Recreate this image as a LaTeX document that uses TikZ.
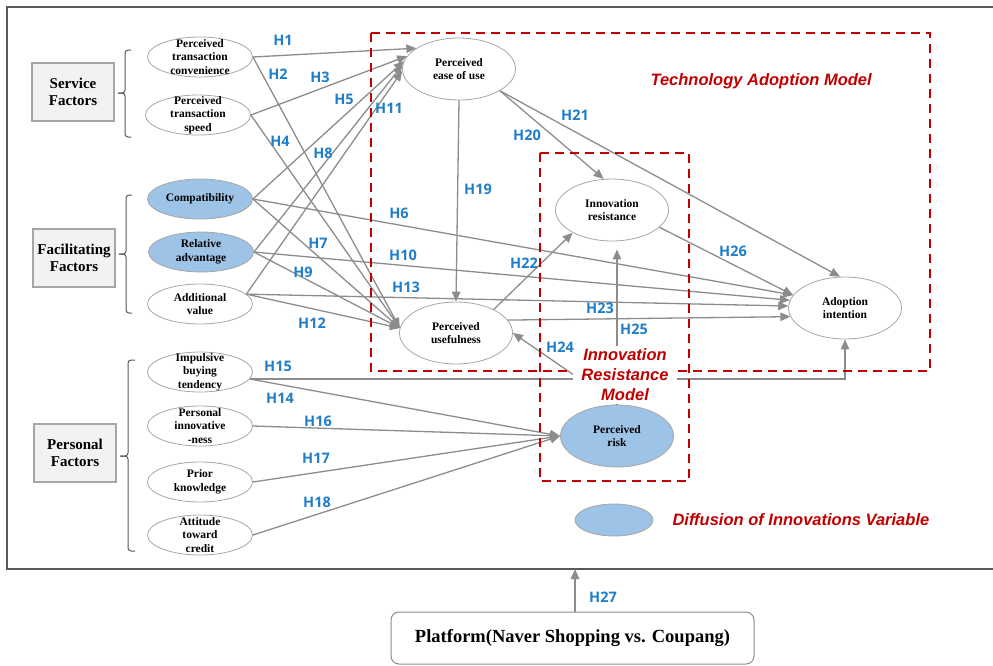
\documentclass[tikz,border=0pt]{standalone}
\usepackage{fontspec}
\setmainfont{Liberation Serif}
\newfontfamily\lblfont{Open Sans}
\newfontfamily\redfont{Liberation Sans}
\usetikzlibrary{shapes.geometric,arrows.meta}
\definecolor{hblue}{HTML}{1F7DC9}
\definecolor{hred}{HTML}{C00000}
\definecolor{lgray}{HTML}{8C8C8C}
\definecolor{efill}{HTML}{9DC3E6}
\definecolor{eline}{HTML}{A6A6A6}
\definecolor{boxfill}{HTML}{F2F2F2}
\definecolor{frame}{HTML}{595959}
\tikzset{
  ell/.style={ellipse, draw=eline, line width=0.8pt, minimum width=105pt, minimum height=40pt, inner sep=0pt},
  bigell/.style={ellipse, draw=eline, line width=0.8pt, minimum width=113pt, minimum height=62pt, inner sep=0pt},
  filled/.style={fill=efill},
  etxt/.style={font=\bfseries\fontsize{11.5}{13.5}\selectfont, align=center, inner sep=0pt},
  hl/.style={font=\lblfont\bfseries\fontsize{14.5}{16}\selectfont, text=hblue, inner sep=0pt},
  arr/.style={draw=lgray, line width=1.3pt, -{Triangle[length=10pt,width=8.5pt]}},
  factor/.style={draw=eline, fill=boxfill, line width=1.2pt, minimum width=82pt, minimum height=58pt, font=\bfseries\fontsize{15}{17}\selectfont, align=center},
  redlbl/.style={font=\redfont\bfseries\itshape\fontsize{16.5}{20}\selectfont, text=hred, align=center},
  dashbox/.style={draw=hred, line width=2.4pt, dash pattern=on 9pt off 6pt},
  bracket/.style={draw=frame, line width=1pt, rounded corners=3pt},
}
\begin{document}
\begin{tikzpicture}[x=1pt,y=-1pt]
\useasboundingbox (0,0) rectangle (993,665);
% outer frame
\draw[frame, line width=1.2pt] (993,7) -- (7,7) -- (7,569) -- (993,569);

% factor boxes
\node[factor] (sf) at (73,92) {Service\\Factors};
\node[factor] (ff) at (74,258) {Facilitating\\Factors};
\node[factor] (pf) at (75,453) {Personal\\Factors};

% brackets
\draw[bracket] (131,50) -- (125,50) -- (125,93) -- (118,93);
\draw[bracket] (118,93) -- (125,93) -- (125,137) -- (131,137);
\draw[bracket] (132,195) -- (126,195) -- (126,254) -- (119,254);
\draw[bracket] (119,254) -- (126,254) -- (126,313) -- (132,313);
\draw[bracket] (135,360) -- (128,360) -- (128,456) -- (120,456);
\draw[bracket] (120,456) -- (128,456) -- (128,551) -- (135,551);

% left ellipses
\node[ell] (ptc) at (200,57) {};
\node[ell] (pts) at (198,115) {};
\node[ell,filled] (comp) at (200,199) {};
\node[ell,filled] (rel) at (201,252) {};
\node[ell] (addv) at (200,304) {};
\node[ell] (imp) at (200,372) {};
\node[ell] (pin) at (200,426) {};
\node[ell] (pk) at (200,482) {};
\node[ell] (atc) at (200,535) {};
\node[etxt] (ptct) at (ptc) {Perceived\\transaction\\convenience};
\node[etxt] (ptst) at (pts) {Perceived\\transaction\\speed};
\node[etxt] (compt) at (comp) {Compatibility};
\node[etxt] (relt) at (rel) {Relative\\advantage};
\node[etxt] (addvt) at (addv) {Additional\\value};
\node[etxt] (impt) at (imp) {Impulsive\\buying\\tendency};
\node[etxt] (pint) at (pin) {Personal\\innovative\\-ness};
\node[etxt] (pkt) at (pk) {Prior\\knowledge};
\node[etxt] (atct) at (atc) {Attitude\\toward\\credit};

% model ellipses
\node[bigell] (peou) at (459,69) {};
\node[bigell] (pu) at (456,333) {};
\node[bigell] (ir) at (612,210) {};
\node[bigell] (ai) at (845,308) {};
\node[bigell,filled] (pr) at (617,436) {};
\node[ellipse, draw=eline, fill=efill, line width=0.8pt, minimum width=78pt, minimum height=32pt, inner sep=0pt] (leg) at (614,520) {};
\node[etxt] (peout) at (peou) {Perceived\\ease of use};
\node[etxt] (put) at (pu) {Perceived\\usefulness};
\node[etxt] (irt) at (ir) {Innovation\\resistance};
\node[etxt] (ait) at (ai) {Adoption\\intention};
\node[etxt] (prt) at (pr) {Perceived\\risk};

% connectors
\draw[arr] (ptc.east) -- (peou.154);
\draw[arr] (pts.east) -- (peou.166);
\draw[arr] (comp.east) -- (peou.172);
\draw[arr] (rel.east) -- (peou.176);
\draw[arr] (addv.12) -- (peou.182);
\draw[arr] (ptc.east) -- (pu.175);
\draw[arr] (pts.east) -- (pu.175);
\draw[arr] (comp.east) -- (pu.175);
\draw[arr] (rel.east) -- (pu.175);
\draw[arr] (addv.12) -- (pu.175);
\draw[arr] (comp.east) -- (ai.166);
\draw[arr] (rel.east) -- (ai.172);
\draw[arr] (addv.12) -- (ai.178);
\draw[arr] (pu.14) -- (ai.189);
\draw[arr] (pu.32) -- (ir.210);
\draw[arr] (peou.south) -- (pu.north);
\draw[arr] (peou.-28) -- (ir.105);
\draw[arr] (peou.-28) -- (ai.99);
\draw[arr] (ir.-20) -- (ai.166);
\draw[arr] (imp.-8) -- (pr.west);
\draw[arr] (imp.-8) -| (ai.south);
\draw[arr] (pin.east) -- (pr.west);
\draw[arr] (pk.east) -- (pr.west);
\draw[arr] (atc.east) -- (pr.west);
\draw[arr] (pr.north) -- (pu.east);
\draw[arr, shorten >=8pt] (pr.north) -- (pr.north |- ir.south);

% dashed model boxes
\draw[dashbox] (371,33) rectangle (930,371);
\draw[dashbox] (540,153) rectangle (689,481);

% model labels
\node[redlbl, anchor=west] (tam) at (647,81) {Technology Adoption Model};
\node[redlbl, fill=white, inner xsep=8pt, inner ysep=3pt] (irm) at (625,375) {Innovation\\Resistance\\Model};
\node[redlbl, anchor=west] (doi) at (669,520) {Diffusion of Innovations Variable};

% hypothesis labels
\node[hl] (h1) at (283,40) {H1};
\node[hl] (h2) at (278,74) {H2};
\node[hl] (h3) at (320,77) {H3};
\node[hl] (h4) at (280,141) {H4};
\node[hl] (h5) at (344,99) {H5};
\node[hl] (h6) at (399,213) {H6};
\node[hl] (h7) at (318,243) {H7};
\node[hl] (h8) at (323,153) {H8};
\node[hl] (h9) at (303,272) {H9};
\node[hl] (h10) at (403,255) {H10};
\node[hl] (h11) at (389,108) {H11};
\node[hl] (h12) at (312,323) {H12};
\node[hl] (h13) at (406,287) {H13};
\node[hl] (h14) at (280,398) {H14};
\node[hl] (h15) at (278,366) {H15};
\node[hl] (h16) at (318,421) {H16};
\node[hl] (h17) at (316,458) {H17};
\node[hl] (h18) at (317,502) {H18};
\node[hl] (h19) at (478,189) {H19};
\node[hl] (h20) at (527,135) {H20};
\node[hl] (h21) at (575,115) {H21};
\node[hl] (h22) at (524,263) {H22};
\node[hl] (h23) at (600,308) {H23};
\node[hl] (h24) at (560,347) {H24};
\node[hl] (h25) at (634,329) {H25};
\node[hl] (h26) at (733,251) {H26};
\node[hl] (h27) at (603,597) {H27};

% platform
\node[draw=lgray, line width=1pt, rounded corners=8pt, minimum width=363pt, minimum height=52pt, font=\bfseries\fontsize{18.5}{22}\selectfont] (plat) at (572.5,638) {Platform(Naver Shopping vs. Coupang)};
\coordinate (fb) at (575,569);
\draw[arr] (fb |- plat.north) -- (fb);
\end{tikzpicture}
\end{document}
